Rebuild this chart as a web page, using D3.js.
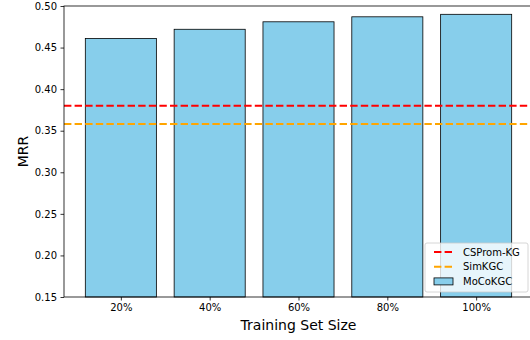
<!DOCTYPE html>
<html><head><meta charset="utf-8">
<script src="https://cdn.jsdelivr.net/npm/d3@7"></script>
<style>body{margin:0;background:#fff}svg{display:block}text{font-family:"DejaVu Sans",sans-serif;fill:#000}</style>
</head><body><svg id="c" width="530" height="340"></svg>
<script>
const categories = ["20%","40%","60%","80%","100%"];
const mocoValues = [0.461,0.472,0.481,0.487,0.490];
const baselineNames = ["CSProm-KG","SimKGC"];
const baselineValues = [0.380,0.358];
const baselineColors = ["#ff0000","#ffa500"];
const yTicks = [0.15,0.20,0.25,0.30,0.35,0.40,0.45,0.50];

const svg = d3.select("#c");
const L=64, R=533, T=6, B=297;
const x = d3.scaleLinear().domain([-0.64, 4.64]).range([L,R]);
const y = d3.scaleLinear().domain([0.15,0.50]).range([B,T]);
const bw = 0.8;

const g = svg.append("g");
g.selectAll("rect.bar").data(mocoValues).join("rect").attr("class","bar")
 .attr("x",(d,i)=>x(i-bw/2)).attr("width",x(bw)-x(0))
 .attr("y",d=>y(d)).attr("height",d=>y(0.15)-y(d))
 .attr("fill","#87ceeb").attr("stroke","#000").attr("stroke-width",0.8);

baselineValues.forEach((v,i)=>{
  g.append("line").attr("x1",L).attr("x2",R).attr("y1",y(v)).attr("y2",y(v))
   .attr("stroke",baselineColors[i]).attr("stroke-width",2).attr("stroke-dasharray","7.4,3.2");
});

const xAxis = d3.axisBottom(x).tickValues(d3.range(categories.length)).tickFormat(i=>categories[i]).tickSize(3.5).tickPadding(3.5);
const ax = svg.append("g").attr("transform",`translate(0,${B})`).call(xAxis);
const yAxis = d3.axisLeft(y).tickValues(yTicks).tickFormat(d3.format(".2f")).tickSize(3.5).tickPadding(3.5);
const ay = svg.append("g").attr("transform",`translate(${L},0)`).call(yAxis);
[ax,ay].forEach(a=>{a.select(".domain").remove();a.selectAll("line").attr("stroke","#000").attr("stroke-width",0.8);a.selectAll("text").attr("font-size",10).attr("font-family","DejaVu Sans").attr("fill","#000");});

svg.append("rect").attr("x",L).attr("y",T).attr("width",R-L).attr("height",B-T).attr("fill","none").attr("stroke","#000").attr("stroke-width",0.8);

svg.append("text").attr("x",(L+R)/2).attr("y",330).attr("text-anchor","middle").attr("font-size",14).text("Training Set Size");
svg.append("text").attr("transform",`translate(28,${(T+B)/2}) rotate(-90)`).attr("text-anchor","middle").attr("font-size",14).text("MRR");

// legend
const lg = svg.append("g").attr("transform","translate(425,243)");
lg.append("rect").attr("width",103).attr("height",49).attr("rx",2).attr("fill","#fff").attr("fill-opacity",0.8).attr("stroke","#cccccc").attr("stroke-width",0.8);
const entries = baselineNames.map((n,i)=>({name:n,type:"line",color:baselineColors[i]})).concat([{name:"MoCoKGC",type:"bar"}]);
entries.forEach((e,i)=>{
  const cy = 9 + i*14.7;
  if(e.type==="line"){
    lg.append("line").attr("x1",9).attr("x2",28).attr("y1",cy).attr("y2",cy).attr("stroke",e.color).attr("stroke-width",2).attr("stroke-dasharray","7.4,3.2");
  } else {
    lg.append("rect").attr("x",9).attr("y",cy-3.5).attr("width",19).attr("height",7).attr("fill","#87ceeb").attr("stroke","#000").attr("stroke-width",0.8);
  }
  lg.append("text").attr("x",38).attr("y",cy+3.6).attr("font-size",10).text(e.name);
});
</script></body></html>
